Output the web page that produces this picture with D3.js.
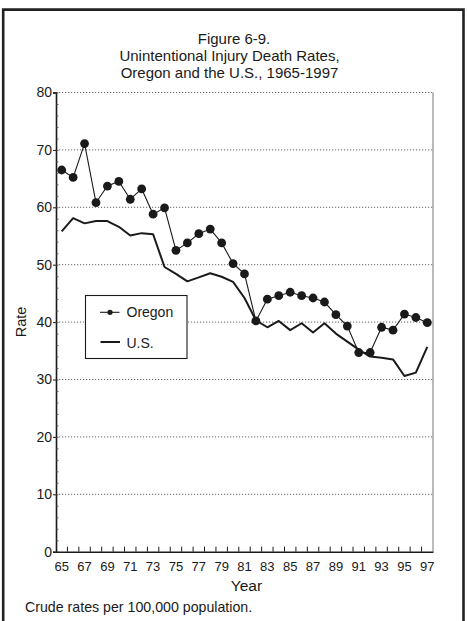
<!DOCTYPE html>
<html>
<head>
<meta charset="utf-8">
<script src="https://cdn.jsdelivr.net/npm/d3@7"></script>
<style>
  html, body { margin: 0; padding: 0; background: #fff; }
  svg { display: block; }
  text { font-family: "Liberation Sans", Arial, Helvetica, sans-serif; fill: #1a1a1a; }
</style>
</head>
<body>
<svg id="chart" width="467" height="621"></svg>
<script>
// ---- data ----
const years = [65,66,67,68,69,70,71,72,73,74,75,76,77,78,79,80,81,82,83,84,85,86,87,88,89,90,91,92,93,94,95,96,97];
const oregon = [66.5,65.2,71.1,60.8,63.7,64.5,61.4,63.2,58.8,59.9,52.5,53.8,55.4,56.2,53.8,50.2,48.4,40.2,44.0,44.6,45.2,44.6,44.2,43.5,41.3,39.3,34.7,34.7,39.1,38.6,41.4,40.8,39.9];
const us     = [55.8,58.1,57.2,57.6,57.6,56.6,55.1,55.5,55.3,49.6,48.4,47.1,47.8,48.5,47.9,47.0,44.2,40.3,39.1,40.2,38.6,39.8,38.2,39.8,38.0,36.6,35.2,34.0,33.8,33.5,30.6,31.2,35.7];
const xTickLabels = [65,67,69,71,73,75,77,79,81,83,85,87,89,91,93,95,97];
const yTicks = [0,10,20,30,40,50,60,70,80];
const titleLines = ["Figure 6-9.", "Unintentional Injury Death Rates,", "Oregon and the U.S., 1965-1997"];
const seriesNames = ["Oregon", "U.S."];

// ---- layout ----
const svg = d3.select("#chart");
const L = 56, R = 433, T = 92.5, B = 551.7;
const ink = "#1a1a1a";

const x = d3.scaleBand().domain(years).range([L, R]).padding(0);
const y = d3.scaleLinear().domain([0, 80]).range([B, T]);
const cx = d => x(d) + x.bandwidth() / 2;

// frame
svg.append("path")
  .attr("d", `M3.2,621 L3.2,9.6 L463.5,9.6 L463.5,621`)
  .attr("fill", "none").attr("stroke", "#222").attr("stroke-width", 2.6);

// title
svg.append("g").selectAll("text").data(titleLines).join("text")
  .attr("x", (d, i) => i === 0 ? 234 : 229.5)
  .attr("y", (d, i) => 44 + i * 17)
  .attr("text-anchor", "middle")
  .attr("font-size", 15)
  .text(d => d);

// gridlines (dotted)
svg.append("g").selectAll("line").data(yTicks.filter(v => v > 0)).join("line")
  .attr("x1", L).attr("x2", R)
  .attr("y1", d => y(d)).attr("y2", d => y(d))
  .attr("stroke", "#555").attr("stroke-width", 0.9)
  .attr("stroke-dasharray", "1.2,1.8");

// right border of plot
svg.append("line")
  .attr("x1", R).attr("x2", R).attr("y1", T).attr("y2", B)
  .attr("stroke", "#777").attr("stroke-width", 1);

// y axis
const yAxis = svg.append("g").attr("transform", `translate(${L},0)`)
  .call(d3.axisLeft(y).tickValues(yTicks).tickSize(3).tickPadding(1).tickFormat(d3.format("d")));
yAxis.attr("font-size", null).attr("font-family", null);
yAxis.select(".domain").attr("stroke", ink).attr("stroke-width", 1.6);
yAxis.selectAll(".tick line").attr("stroke", ink);
yAxis.selectAll(".tick text").attr("fill", ink)
  .style("font-size", "14px")
  .style("font-family", '"Liberation Sans", Arial, sans-serif');

// minor y ticks (inward)
const yMinorAxis = svg.append("g").attr("transform", `translate(${L},0)`)
  .call(d3.axisRight(y).ticks(40).tickSize(2.5).tickFormat(""));
yMinorAxis.select(".domain").remove();
yMinorAxis.selectAll(".tick line").attr("stroke", "#444").attr("stroke-width", 0.8);

// x axis
const xAxis = svg.append("g").attr("transform", `translate(0,${B})`)
  .call(d3.axisBottom(x).tickSize(0).tickPadding(10)
    .tickFormat(d => xTickLabels.includes(d) ? d : ""));
xAxis.attr("font-size", null).attr("font-family", null);
xAxis.select(".domain").attr("stroke", ink).attr("stroke-width", 1.6);
xAxis.selectAll(".tick text").attr("fill", ink)
  .style("font-size", "13px")
  .style("font-family", '"Liberation Sans", Arial, sans-serif');
// inward ticks at band boundaries
svg.append("g").selectAll("line").data(years.slice(1)).join("line")
  .attr("x1", d => x(d)).attr("x2", d => x(d))
  .attr("y1", B).attr("y2", B - 5)
  .attr("stroke", ink).attr("stroke-width", 1);

// axis titles
svg.append("text").attr("x", 246.5).attr("y", 591)
  .attr("text-anchor", "middle").attr("font-size", 15.5).text("Year");
svg.append("text").attr("transform", "translate(26,322) rotate(-90)")
  .attr("text-anchor", "middle").attr("font-size", 14.5).text("Rate");

// footnote
svg.append("text").attr("x", 25).attr("y", 612)
  .attr("font-size", 14.2).text("Crude rates per 100,000 population.");

// lines
const line = d3.line().x((d, i) => cx(years[i])).y(d => y(d));
svg.append("path").datum(us).attr("d", line)
  .attr("fill", "none").attr("stroke", ink).attr("stroke-width", 2)
  .attr("stroke-linejoin", "round");
svg.append("path").datum(oregon).attr("d", line)
  .attr("fill", "none").attr("stroke", ink).attr("stroke-width", 1.1);
svg.append("g").selectAll("circle").data(oregon).join("circle")
  .attr("cx", (d, i) => cx(years[i])).attr("cy", d => y(d))
  .attr("r", 4.4).attr("fill", ink);

// legend
const lg = svg.append("g");
lg.append("rect").attr("x", 85.5).attr("y", 295.5).attr("width", 101.5).attr("height", 63)
  .attr("fill", "#fff").attr("stroke", ink).attr("stroke-width", 1.1);
lg.append("line").attr("x1", 100).attr("x2", 119.5).attr("y1", 312.3).attr("y2", 312.3)
  .attr("stroke", ink).attr("stroke-width", 1.1);
lg.append("circle").attr("cx", 110).attr("cy", 312.3).attr("r", 2.6).attr("fill", ink);
lg.append("line").attr("x1", 100.5).attr("x2", 120).attr("y1", 342).attr("y2", 342)
  .attr("stroke", ink).attr("stroke-width", 2);
lg.selectAll("text").data(seriesNames).join("text")
  .attr("x", 126.5).attr("y", (d, i) => 317 + i * 30.5)
  .attr("font-size", 14).text(d => d);
</script>
</body>
</html>
